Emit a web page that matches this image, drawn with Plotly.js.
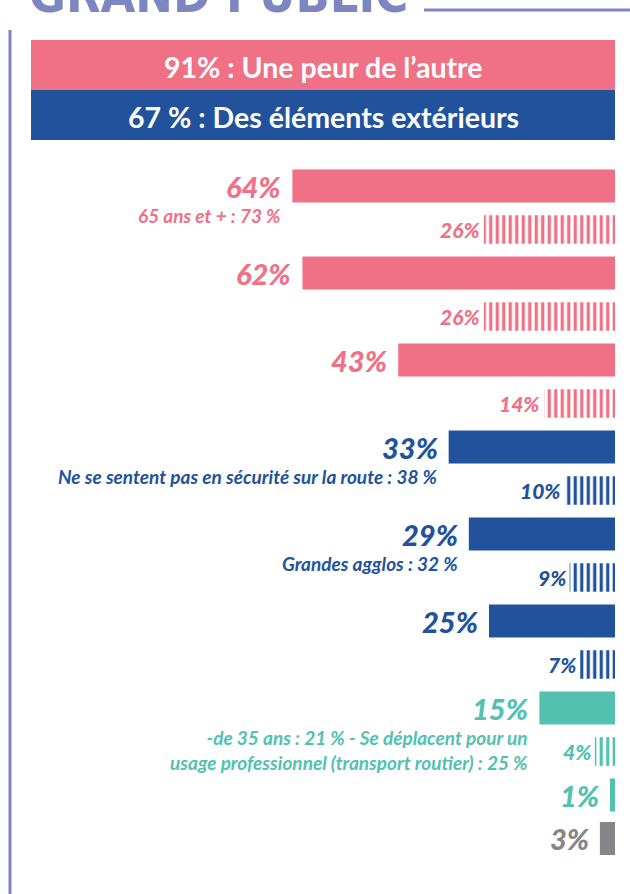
<!DOCTYPE html>
<html>
<head>
<meta charset="utf-8">
<script src="https://cdn.plot.ly/plotly-3.0.1.min.js"></script>
<style>
  html, body { margin: 0; padding: 0; background: #ffffff; }
  #chart { width: 630px; height: 894px; }
</style>
</head>
<body>
<div id="chart"></div>
<script>
// ---------- DATA ----------
const pageTitle = "GRAND PUBLIC";
const headerLabels = ["91% : Une peur de l’autre", "67 % : Des éléments extérieurs"];
const mainValues  = [64, 62, 43, 33, 29, 25, 15, 1, 3];
const hatchValues = [26, 26, 14, 10, 9, 7, 4, null, null];
const notes = [
  "65 ans et + : 73 %",
  "",
  "",
  "Ne se sentent pas en sécurité sur la route : 38 %",
  "Grandes agglos : 32 %",
  "",
  "-de 35 ans : 21 % - Se déplacent pour un<br>usage professionnel (transport routier) : 25 %",
  "",
  ""
];

// ---------- STYLES ----------
const PINK = "#F07086", BLUE = "#22529C", TEAL = "#52C1B0", GRAY = "#86868A", LAV = "#7D86C0";
const groupColors = [PINK, PINK, PINK, BLUE, BLUE, BLUE, TEAL, TEAL, GRAY];
const headerColors = [PINK, BLUE];

// ---------- BUILD ROWS ----------
const rows = [], mainRows = [], hatchRows = [], hatchX = [], hatchColors = [];
mainValues.forEach((v, i) => {
  const m = "g" + i + "m"; rows.push(m); mainRows.push(m);
  if (hatchValues[i] != null) {
    const h = "g" + i + "h"; rows.push(h); hatchRows.push(h);
    hatchX.push(hatchValues[i]); hatchColors.push(groupColors[i]);
  }
});

const traces = [
  {
    type: "bar", orientation: "h",
    x: mainValues, y: mainRows,
    marker: { color: groupColors, line: { width: 0 } },
    width: 0.76, hoverinfo: "skip", showlegend: false
  },
  {
    type: "bar", orientation: "h",
    x: hatchX, y: hatchRows,
    marker: {
      color: hatchColors, line: { width: 0 },
      pattern: { shape: "|", size: 6.5, solidity: 0.5, fillmode: "replace" }
    },
    width: 0.66, hoverinfo: "skip", showlegend: false
  }
];

const annotations = [];
const pctFont = (c, s) => ({ family: "Lato, 'Open Sans', sans-serif", size: s, color: c, weight: 900, style: "italic" });

mainValues.forEach((v, i) => {
  annotations.push({
    x: v, y: "g" + i + "m", xref: "x", yref: "y",
    text: v + "%", showarrow: false, xanchor: "right", yanchor: "middle",
    xshift: -9, font: pctFont(groupColors[i], 29)
  });
  if (notes[i]) {
    annotations.push({
      x: v, y: "g" + i + "m", xref: "x", yref: "y",
      text: notes[i], showarrow: false, xanchor: "right", yanchor: "top", align: "right",
      xshift: -9, yshift: -16,
      font: { family: "Lato, sans-serif", size: 19, color: groupColors[i], weight: 700, style: "italic" }
    });
  }
  if (hatchValues[i] != null) {
    annotations.push({
      x: hatchValues[i], y: "g" + i + "h", xref: "x", yref: "y",
      text: hatchValues[i] + "%", showarrow: false, xanchor: "right", yanchor: "middle",
      xshift: -2, font: pctFont(groupColors[i], 21)
    });
  }
});

// header labels
const H = 894, W = 630;
const headerTops = [40, 90], headerH = 50;
headerLabels.forEach((t, k) => {
  annotations.push({
    x: (31 + 615) / 2 / W, y: 1 - (headerTops[k] + headerH / 2 + 2) / H, xref: "paper", yref: "paper",
    text: t, showarrow: false, xanchor: "center", yanchor: "middle",
    font: { family: "Lato, sans-serif", size: 28.5, color: "#ffffff", weight: 700 }
  });
});

// cut-off page title
annotations.push({
  x: 27 / W, y: 1 - 26 / H, xref: "paper", yref: "paper",
  text: pageTitle, showarrow: false, xanchor: "left", yanchor: "bottom",
  font: { family: "'DejaVu Sans Condensed', 'DejaVu Sans', sans-serif", size: 50, color: LAV, weight: 900 }
});

const shapes = [];
headerLabels.forEach((t, k) => {
  shapes.push({
    type: "rect", xref: "paper", yref: "paper",
    x0: 31 / W, x1: 615 / W, y0: 1 - (headerTops[k] + headerH) / H, y1: 1 - headerTops[k] / H,
    fillcolor: headerColors[k], line: { width: 0 }, layer: "below"
  });
});
shapes.push({ type: "line", xref: "paper", yref: "paper", x0: 10 / W, x1: 10 / W, y0: 0, y1: 1 - 30 / H, line: { color: LAV, width: 3 } });
shapes.push({ type: "line", xref: "paper", yref: "paper", x0: 424 / W, x1: 1, y0: 1 - 10 / H, y1: 1 - 10 / H, line: { color: LAV, width: 3 } });

const pitch = 43.5, firstCenter = 186;
const yTop = -firstCenter / pitch;
const yBottom = yTop + H / pitch;

const layout = {
  width: W, height: H,
  margin: { l: 0, r: 0, t: 0, b: 0, pad: 0 },
  paper_bgcolor: "#ffffff", plot_bgcolor: "rgba(0,0,0,0)",
  barmode: "overlay",
  xaxis: { range: [122, 0], domain: [0, 615 / W], visible: false, fixedrange: true },
  yaxis: { type: "category", categoryorder: "array", categoryarray: rows, range: [yBottom, yTop], visible: false, fixedrange: true },
  annotations: annotations,
  shapes: shapes,
  showlegend: false
};

Plotly.newPlot("chart", traces, layout, { displayModeBar: false, staticPlot: true });
</script>
</body>
</html>
